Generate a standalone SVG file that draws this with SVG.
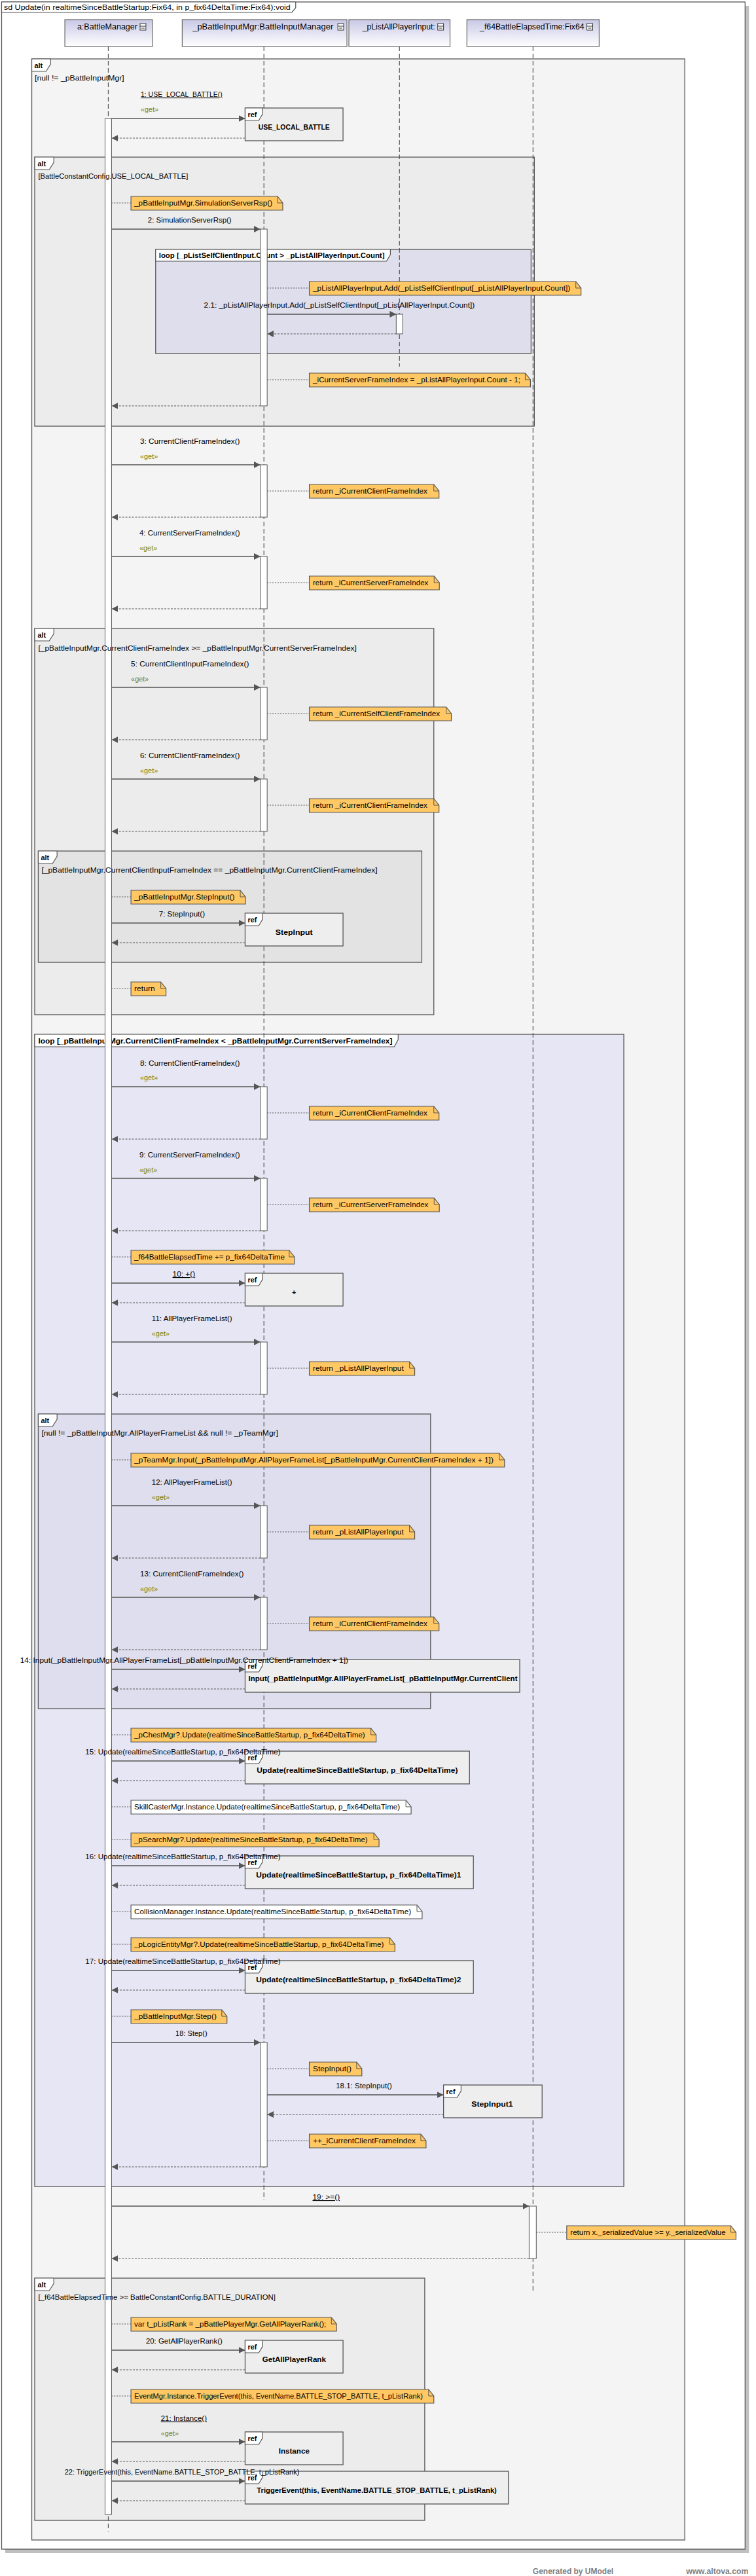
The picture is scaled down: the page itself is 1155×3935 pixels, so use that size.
<svg xmlns="http://www.w3.org/2000/svg" width="1155" height="3935" viewBox="0 0 1155 3935">
<defs>
<style>
.t{font-family:"Liberation Sans",Arial,sans-serif;font-size:11px;fill:#000}
.b{font-weight:bold}
.hd{font-size:13px}
.get{fill:#808000}
.u{text-decoration:underline}
.ft{font-family:"Liberation Sans",Arial,sans-serif;font-size:12px;font-weight:bold;fill:#7f7f7f}
.fr{stroke:#555;stroke-width:1.3}
.tab{fill:#fff;stroke:#555;stroke-width:1.2}
.ll{stroke:#555;stroke-width:1.2;stroke-dasharray:7 4;fill:none}
.act{fill:#fff;stroke:#555;stroke-width:1}
.msg{stroke:#555;stroke-width:1.5;fill:none;marker-end:url(#ah)}
.ret{stroke:#555;stroke-width:1.2;stroke-dasharray:3 2;fill:none;marker-end:url(#ah)}
.nc{stroke:#555;stroke-width:1;stroke-dasharray:2 2;fill:none}
.note{fill:#ffc864;stroke:#555;stroke-width:1.2}
.wnote{fill:#fff;stroke:#555;stroke-width:1.2}
.fold{fill:none;stroke:#555;stroke-width:1}
.ref{fill:#eee;stroke:#555;stroke-width:1.3}
.head{fill:url(#hg);stroke:#666;stroke-width:1.2}
.ico{fill:#fff;stroke:#333;stroke-width:1}
</style>
<linearGradient id="hg" x1="0" y1="0" x2="0" y2="1">
<stop offset="0" stop-color="#c8c8e6"/>
<stop offset="1" stop-color="#ffffff"/>
</linearGradient>
<marker id="ah" markerUnits="userSpaceOnUse" markerWidth="10" markerHeight="10" refX="10" refY="5" orient="auto">
<path d="M0,0 L10,5 L0,10 z" fill="#555"/>
</marker>
</defs>

<rect x="0" y="0" width="1155" height="3935" fill="#fff"/>
<g transform="scale(0.9907 1)">
<rect x="8" y="9" width="1147" height="3891" fill="#c0c0c0"/>
<rect x="2.5" y="3" width="1146.5" height="3891" fill="#fff" stroke="#555" stroke-width="1.3"/>
<path d="M2.5,3 H456 V12 L450,19 H2.5 Z" class="tab"/>
<text class="t" x="6" y="15" font-size="12" textLength="442" lengthAdjust="spacingAndGlyphs">sd Update(in realtimeSinceBattleStartup:Fix64, in p_fix64DeltaTime:Fix64):void</text>

<g id="frames">
<g id="alt-outer">
<rect x="49" y="90" width="1007" height="3790" fill="#f4f4f4" class="fr"/>
<path d="M49,90 H78 V98 L71,109 H49 Z" class="tab"/>
<text class="t b" x="53" y="104" font-size="12">alt</text>
</g>
<g id="alt-local">
<rect x="53.5" y="240" width="770.5" height="411" fill="#ececec" class="fr"/>
<path d="M53.5,240 H83 V248 L76,259 H53.5 Z" class="tab"/>
<text class="t b" x="58" y="254" font-size="12">alt</text>
</g>
<g id="loop-self">
<rect x="240" y="381" width="579" height="159" fill="#dedeed" class="fr"/>
<path d="M240,381 H602 V389 L596,399 H240 Z" class="tab"/>
<text class="t b" x="245" y="394" textLength="348" lengthAdjust="spacingAndGlyphs">loop [_pListSelfClientInput.Count &gt; _pListAllPlayerInput.Count]</text>
</g>
<g id="alt-client">
<rect x="53.5" y="960" width="615.5" height="590" fill="#ececec" class="fr"/>
<path d="M53.5,960 H83 V968 L76,979 H53.5 Z" class="tab"/>
<text class="t b" x="58" y="974" font-size="12">alt</text>
</g>
<g id="alt-step">
<rect x="59" y="1300" width="591.5" height="170" fill="#e3e3e3" class="fr"/>
<path d="M59,1300 H88 V1308 L81,1319 H59 Z" class="tab"/>
<text class="t b" x="63" y="1314" font-size="12">alt</text>
</g>
<g id="loop-frames">
<rect x="53.5" y="1580" width="908.5" height="1760" fill="#e6e6f4" class="fr"/>
<path d="M53.5,1580 H614 V1588 L608,1599 H53.5 Z" class="tab"/>
<text class="t b" x="59" y="1594" textLength="546" lengthAdjust="spacingAndGlyphs">loop [_pBattleInputMgr.CurrentClientFrameIndex &lt; _pBattleInputMgr.CurrentServerFrameIndex]</text>
</g>
<g id="alt-team">
<rect x="59" y="2160" width="605" height="450" fill="#dedeee" class="fr"/>
<path d="M59,2160 H88 V2168 L81,2179 H59 Z" class="tab"/>
<text class="t b" x="63" y="2174" font-size="12">alt</text>
</g>
<g id="alt-end">
<rect x="53.5" y="3480" width="601.5" height="370" fill="#ececec" class="fr"/>
<path d="M53.5,3480 H83 V3488 L76,3499 H53.5 Z" class="tab"/>
<text class="t b" x="58" y="3494" font-size="12">alt</text>
</g>
</g>

<g id="lifeline-battleManager">
<rect x="100" y="30" width="135" height="41" class="head"/>
<text class="t hd" x="119" y="45" textLength="93" lengthAdjust="spacingAndGlyphs">a:BattleManager</text>
<rect x="216" y="36" width="9" height="10" class="ico"/><line x1="216" y1="40" x2="225" y2="40" stroke="#333"/><line x1="218" y1="43" x2="223" y2="43" stroke="#333"/>
<line x1="167" y1="71" x2="167" y2="3867" class="ll"/>
</g>
<g id="lifeline-battleInputMgr">
<rect x="281" y="30" width="254" height="41" class="head"/>
<text class="t hd" x="297" y="45" textLength="217" lengthAdjust="spacingAndGlyphs">_pBattleInputMgr:BattleInputManager</text>
<rect x="521" y="36" width="9" height="10" class="ico"/><line x1="521" y1="40" x2="530" y2="40" stroke="#333"/><line x1="523" y1="43" x2="528" y2="43" stroke="#333"/>
<line x1="407" y1="71" x2="407" y2="3361" class="ll"/>
</g>
<g id="lifeline-listAllPlayerInput">
<rect x="538" y="30" width="156" height="41" class="head"/>
<text class="t hd" x="559" y="45" textLength="112" lengthAdjust="spacingAndGlyphs">_pListAllPlayerInput:</text>
<rect x="675" y="36" width="9" height="10" class="ico"/><line x1="675" y1="40" x2="684" y2="40" stroke="#333"/><line x1="677" y1="43" x2="682" y2="43" stroke="#333"/>
<line x1="616" y1="71" x2="616" y2="560" class="ll"/>
</g>
<g id="lifeline-elapsedTime">
<rect x="720" y="30" width="204" height="41" class="head"/>
<text class="t hd" x="740" y="45" textLength="161" lengthAdjust="spacingAndGlyphs">_f64BattleElapsedTime:Fix64</text>
<rect x="905" y="36" width="9" height="10" class="ico"/><line x1="905" y1="40" x2="914" y2="40" stroke="#333"/><line x1="907" y1="43" x2="912" y2="43" stroke="#333"/>
<line x1="822" y1="71" x2="822" y2="3499" class="ll"/>
</g>

<g id="activations">
<rect x="162" y="181" width="10" height="3660" class="act"/>
<rect x="401.5" y="350" width="10.5" height="270" class="act"/>
<rect x="611" y="480" width="10" height="30" class="act"/>
<rect x="401.5" y="710" width="10.5" height="80" class="act"/>
<rect x="401.5" y="850" width="10.5" height="80" class="act"/>
<rect x="401.5" y="1050" width="10.5" height="80" class="act"/>
<rect x="401.5" y="1190" width="10.5" height="80" class="act"/>
<rect x="401.5" y="1660" width="10.5" height="80" class="act"/>
<rect x="401.5" y="1800" width="10.5" height="80" class="act"/>
<rect x="401.5" y="2050" width="10.5" height="80" class="act"/>
<rect x="401.5" y="2300" width="10.5" height="80" class="act"/>
<rect x="401.5" y="2440" width="10.5" height="80" class="act"/>
<rect x="401.5" y="3120" width="10.5" height="190" class="act"/>
<rect x="816" y="3370" width="11" height="80" class="act"/>
</g>

<g id="ref-use-local-battle">
<rect x="378" y="165" width="151" height="50" class="ref"/>
<path d="M378,165 H405 V174 L399,184 H378 Z" class="tab"/>
<text class="t b" x="382" y="179" font-size="12">ref</text>
<text class="t b" x="453.5" y="198" text-anchor="middle" textLength="110" lengthAdjust="spacingAndGlyphs">USE_LOCAL_BATTLE</text>
</g>
<g id="ref-stepinput">
<rect x="378" y="1395" width="151" height="50" class="ref"/>
<path d="M378,1395 H405 V1404 L399,1414 H378 Z" class="tab"/>
<text class="t b" x="382" y="1409" font-size="12">ref</text>
<text class="t b" x="453.5" y="1428" text-anchor="middle" textLength="57.5" lengthAdjust="spacingAndGlyphs">StepInput</text>
</g>
<g id="ref-plus">
<rect x="378" y="1945" width="151" height="50" class="ref"/>
<path d="M378,1945 H405 V1954 L399,1964 H378 Z" class="tab"/>
<text class="t b" x="382" y="1959" font-size="12">ref</text>
<text class="t b" x="453.5" y="1978" text-anchor="middle">+</text>
</g>
<g id="ref-input">
<rect x="378" y="2535" width="423.5" height="50" class="ref"/>
<path d="M378,2535 H405 V2544 L399,2554 H378 Z" class="tab"/>
<text class="t b" x="382" y="2549" font-size="12">ref</text>
<text class="t b" x="383" y="2568" textLength="415" lengthAdjust="spacingAndGlyphs">Input(_pBattleInputMgr.AllPlayerFrameList[_pBattleInputMgr.CurrentClient</text>
</g>
<g id="ref-update">
<rect x="378" y="2675" width="346" height="50" class="ref"/>
<path d="M378,2675 H405 V2684 L399,2694 H378 Z" class="tab"/>
<text class="t b" x="382" y="2689" font-size="12">ref</text>
<text class="t b" x="551" y="2708" text-anchor="middle" textLength="310" lengthAdjust="spacingAndGlyphs">Update(realtimeSinceBattleStartup, p_fix64DeltaTime)</text>
</g>
<g id="ref-update1">
<rect x="378" y="2835" width="352" height="50" class="ref"/>
<path d="M378,2835 H405 V2844 L399,2854 H378 Z" class="tab"/>
<text class="t b" x="382" y="2849" font-size="12">ref</text>
<text class="t b" x="553" y="2868" text-anchor="middle" textLength="316" lengthAdjust="spacingAndGlyphs">Update(realtimeSinceBattleStartup, p_fix64DeltaTime)1</text>
</g>
<g id="ref-update2">
<rect x="378" y="2995" width="352" height="50" class="ref"/>
<path d="M378,2995 H405 V3004 L399,3014 H378 Z" class="tab"/>
<text class="t b" x="382" y="3009" font-size="12">ref</text>
<text class="t b" x="553" y="3028" text-anchor="middle" textLength="316" lengthAdjust="spacingAndGlyphs">Update(realtimeSinceBattleStartup, p_fix64DeltaTime)2</text>
</g>
<g id="ref-stepinput1">
<rect x="684" y="3185" width="152" height="50" class="ref"/>
<path d="M684,3185 H711 V3194 L705,3204 H684 Z" class="tab"/>
<text class="t b" x="688" y="3199" font-size="12">ref</text>
<text class="t b" x="759" y="3218" text-anchor="middle" textLength="64" lengthAdjust="spacingAndGlyphs">StepInput1</text>
</g>
<g id="ref-getallplayerrank">
<rect x="378" y="3575" width="151" height="50" class="ref"/>
<path d="M378,3575 H405 V3584 L399,3594 H378 Z" class="tab"/>
<text class="t b" x="382" y="3589" font-size="12">ref</text>
<text class="t b" x="453.5" y="3608" text-anchor="middle" textLength="98" lengthAdjust="spacingAndGlyphs">GetAllPlayerRank</text>
</g>
<g id="ref-instance">
<rect x="378" y="3715" width="151" height="50" class="ref"/>
<path d="M378,3715 H405 V3724 L399,3734 H378 Z" class="tab"/>
<text class="t b" x="382" y="3729" font-size="12">ref</text>
<text class="t b" x="453.5" y="3748" text-anchor="middle" textLength="47.6" lengthAdjust="spacingAndGlyphs">Instance</text>
</g>
<g id="ref-triggerevent">
<rect x="378" y="3775" width="406" height="50" class="ref"/>
<path d="M378,3775 H405 V3784 L399,3794 H378 Z" class="tab"/>
<text class="t b" x="382" y="3789" font-size="12">ref</text>
<text class="t b" x="581" y="3808" text-anchor="middle" textLength="370" lengthAdjust="spacingAndGlyphs">TriggerEvent(this, EventName.BATTLE_STOP_BATTLE, t_pListRank)</text>
</g>

<g id="connectors">
<line x1="172" y1="181" x2="378" y2="181" class="msg"/>
<line x1="378" y1="211" x2="172" y2="211" class="ret"/>
<line x1="172" y1="350" x2="401.5" y2="350" class="msg"/>
<line x1="412" y1="480" x2="611" y2="480" class="msg"/>
<line x1="611" y1="510" x2="412" y2="510" class="ret"/>
<line x1="401.5" y1="620" x2="172" y2="620" class="ret"/>
<line x1="172" y1="710" x2="401.5" y2="710" class="msg"/>
<line x1="401.5" y1="790" x2="172" y2="790" class="ret"/>
<line x1="172" y1="850" x2="401.5" y2="850" class="msg"/>
<line x1="401.5" y1="930" x2="172" y2="930" class="ret"/>
<line x1="172" y1="1050" x2="401.5" y2="1050" class="msg"/>
<line x1="401.5" y1="1130" x2="172" y2="1130" class="ret"/>
<line x1="172" y1="1190" x2="401.5" y2="1190" class="msg"/>
<line x1="401.5" y1="1270" x2="172" y2="1270" class="ret"/>
<line x1="172" y1="1410" x2="378" y2="1410" class="msg"/>
<line x1="378" y1="1440" x2="172" y2="1440" class="ret"/>
<line x1="172" y1="1660" x2="401.5" y2="1660" class="msg"/>
<line x1="401.5" y1="1740" x2="172" y2="1740" class="ret"/>
<line x1="172" y1="1800" x2="401.5" y2="1800" class="msg"/>
<line x1="401.5" y1="1880" x2="172" y2="1880" class="ret"/>
<line x1="172" y1="1960" x2="378" y2="1960" class="msg"/>
<line x1="378" y1="1990" x2="172" y2="1990" class="ret"/>
<line x1="172" y1="2050" x2="401.5" y2="2050" class="msg"/>
<line x1="401.5" y1="2130" x2="172" y2="2130" class="ret"/>
<line x1="172" y1="2300" x2="401.5" y2="2300" class="msg"/>
<line x1="401.5" y1="2380" x2="172" y2="2380" class="ret"/>
<line x1="172" y1="2440" x2="401.5" y2="2440" class="msg"/>
<line x1="401.5" y1="2520" x2="172" y2="2520" class="ret"/>
<line x1="172" y1="2550" x2="378" y2="2550" class="msg"/>
<line x1="378" y1="2580" x2="172" y2="2580" class="ret"/>
<line x1="172" y1="2690" x2="378" y2="2690" class="msg"/>
<line x1="378" y1="2720" x2="172" y2="2720" class="ret"/>
<line x1="172" y1="2850" x2="378" y2="2850" class="msg"/>
<line x1="378" y1="2880" x2="172" y2="2880" class="ret"/>
<line x1="172" y1="3010" x2="378" y2="3010" class="msg"/>
<line x1="378" y1="3040" x2="172" y2="3040" class="ret"/>
<line x1="172" y1="3120" x2="401.5" y2="3120" class="msg"/>
<line x1="412" y1="3200" x2="684" y2="3200" class="msg"/>
<line x1="684" y1="3230" x2="412" y2="3230" class="ret"/>
<line x1="401.5" y1="3310" x2="172" y2="3310" class="ret"/>
<line x1="172" y1="3370" x2="816" y2="3370" class="msg"/>
<line x1="816" y1="3450" x2="172" y2="3450" class="ret"/>
<line x1="172" y1="3590" x2="378" y2="3590" class="msg"/>
<line x1="378" y1="3620" x2="172" y2="3620" class="ret"/>
<line x1="172" y1="3730" x2="378" y2="3730" class="msg"/>
<line x1="378" y1="3760" x2="172" y2="3760" class="ret"/>
<line x1="172" y1="3790" x2="378" y2="3790" class="msg"/>
<line x1="378" y1="3820" x2="172" y2="3820" class="ret"/>
<line x1="172" y1="310" x2="202" y2="310" class="nc"/>
<line x1="412" y1="440" x2="477" y2="440" class="nc"/>
<line x1="412" y1="580" x2="477" y2="580" class="nc"/>
<line x1="412" y1="750" x2="477" y2="750" class="nc"/>
<line x1="412" y1="890" x2="477" y2="890" class="nc"/>
<line x1="412" y1="1090" x2="477" y2="1090" class="nc"/>
<line x1="412" y1="1230" x2="477" y2="1230" class="nc"/>
<line x1="172" y1="1370" x2="202" y2="1370" class="nc"/>
<line x1="172" y1="1510" x2="202" y2="1510" class="nc"/>
<line x1="412" y1="1700" x2="477" y2="1700" class="nc"/>
<line x1="412" y1="1840" x2="477" y2="1840" class="nc"/>
<line x1="172" y1="1920" x2="202" y2="1920" class="nc"/>
<line x1="412" y1="2090" x2="477" y2="2090" class="nc"/>
<line x1="172" y1="2230" x2="202" y2="2230" class="nc"/>
<line x1="412" y1="2340" x2="477" y2="2340" class="nc"/>
<line x1="412" y1="2480" x2="477" y2="2480" class="nc"/>
<line x1="172" y1="2650" x2="202" y2="2650" class="nc"/>
<line x1="172" y1="2760" x2="202" y2="2760" class="nc"/>
<line x1="172" y1="2810" x2="202" y2="2810" class="nc"/>
<line x1="172" y1="2920" x2="202" y2="2920" class="nc"/>
<line x1="172" y1="2970" x2="202" y2="2970" class="nc"/>
<line x1="172" y1="3080" x2="202" y2="3080" class="nc"/>
<line x1="412" y1="3160" x2="477" y2="3160" class="nc"/>
<line x1="412" y1="3270" x2="477" y2="3270" class="nc"/>
<line x1="827" y1="3410" x2="874" y2="3410" class="nc"/>
<line x1="172" y1="3550" x2="202" y2="3550" class="nc"/>
<line x1="172" y1="3660" x2="202" y2="3660" class="nc"/>
</g>

<g id="notes">
<g id="note-1"><path d="M202,300 H428 L436,310 V321 H202 Z" class="note"/><path d="M428,300 V310 H436" class="fold"/><text class="t" x="207" y="314" textLength="213" lengthAdjust="spacingAndGlyphs">_pBattleInputMgr.SimulationServerRsp()</text></g>
<g id="note-2"><path d="M477,430 H888 L896,440 V451 H477 Z" class="note"/><path d="M888,430 V440 H896" class="fold"/><text class="t" x="482.5" y="444" textLength="397" lengthAdjust="spacingAndGlyphs">_pListAllPlayerInput.Add(_pListSelfClientInput[_pListAllPlayerInput.Count])</text></g>
<g id="note-3"><path d="M477,570 H810 L818,580 V591 H477 Z" class="note"/><path d="M810,570 V580 H818" class="fold"/><text class="t" x="482.5" y="584" textLength="320" lengthAdjust="spacingAndGlyphs">_iCurrentServerFrameIndex = _pListAllPlayerInput.Count - 1;</text></g>
<g id="note-4"><path d="M477,740 H669 L677,750 V761 H477 Z" class="note"/><path d="M669,740 V750 H677" class="fold"/><text class="t" x="482.5" y="754" textLength="176.5" lengthAdjust="spacingAndGlyphs">return _iCurrentClientFrameIndex</text></g>
<g id="note-5"><path d="M477,880 H669.5 L677.5,890 V901 H477 Z" class="note"/><path d="M669.5,880 V890 H677.5" class="fold"/><text class="t" x="482.5" y="894" textLength="178" lengthAdjust="spacingAndGlyphs">return _iCurrentServerFrameIndex</text></g>
<g id="note-6"><path d="M477,1080 H688 L696,1090 V1101 H477 Z" class="note"/><path d="M688,1080 V1090 H696" class="fold"/><text class="t" x="482.5" y="1094" textLength="196" lengthAdjust="spacingAndGlyphs">return _iCurrentSelfClientFrameIndex</text></g>
<g id="note-7"><path d="M477,1220 H669 L677,1230 V1241 H477 Z" class="note"/><path d="M669,1220 V1230 H677" class="fold"/><text class="t" x="482.5" y="1234" textLength="176.5" lengthAdjust="spacingAndGlyphs">return _iCurrentClientFrameIndex</text></g>
<g id="note-8"><path d="M202,1360 H370.5 L378.5,1370 V1381 H202 Z" class="note"/><path d="M370.5,1360 V1370 H378.5" class="fold"/><text class="t" x="207" y="1374" textLength="155" lengthAdjust="spacingAndGlyphs">_pBattleInputMgr.StepInput()</text></g>
<g id="note-9"><path d="M202,1500 H248 L256,1510 V1521 H202 Z" class="note"/><path d="M248,1500 V1510 H256" class="fold"/><text class="t" x="207" y="1514" textLength="32" lengthAdjust="spacingAndGlyphs">return</text></g>
<g id="note-10"><path d="M477,1690 H669 L677,1700 V1711 H477 Z" class="note"/><path d="M669,1690 V1700 H677" class="fold"/><text class="t" x="482.5" y="1704" textLength="176.5" lengthAdjust="spacingAndGlyphs">return _iCurrentClientFrameIndex</text></g>
<g id="note-11"><path d="M477,1830 H669.5 L677.5,1840 V1851 H477 Z" class="note"/><path d="M669.5,1830 V1840 H677.5" class="fold"/><text class="t" x="482.5" y="1844" textLength="178" lengthAdjust="spacingAndGlyphs">return _iCurrentServerFrameIndex</text></g>
<g id="note-12"><path d="M202,1910 H446 L454,1920 V1931 H202 Z" class="note"/><path d="M446,1910 V1920 H454" class="fold"/><text class="t" x="207" y="1924" textLength="232" lengthAdjust="spacingAndGlyphs">_f64BattleElapsedTime += p_fix64DeltaTime</text></g>
<g id="note-13"><path d="M477,2080 H631.5 L639.5,2090 V2101 H477 Z" class="note"/><path d="M631.5,2080 V2090 H639.5" class="fold"/><text class="t" x="482.5" y="2094" textLength="140" lengthAdjust="spacingAndGlyphs">return _pListAllPlayerInput</text></g>
<g id="note-14"><path d="M202,2220 H770 L778,2230 V2241 H202 Z" class="note"/><path d="M770,2220 V2230 H778" class="fold"/><text class="t" x="207" y="2234" textLength="554" lengthAdjust="spacingAndGlyphs">_pTeamMgr.Input(_pBattleInputMgr.AllPlayerFrameList[_pBattleInputMgr.CurrentClientFrameIndex + 1])</text></g>
<g id="note-15"><path d="M477,2330 H631.5 L639.5,2340 V2351 H477 Z" class="note"/><path d="M631.5,2330 V2340 H639.5" class="fold"/><text class="t" x="482.5" y="2344" textLength="140" lengthAdjust="spacingAndGlyphs">return _pListAllPlayerInput</text></g>
<g id="note-16"><path d="M477,2470 H669 L677,2480 V2491 H477 Z" class="note"/><path d="M669,2470 V2480 H677" class="fold"/><text class="t" x="482.5" y="2484" textLength="176.5" lengthAdjust="spacingAndGlyphs">return _iCurrentClientFrameIndex</text></g>
<g id="note-17"><path d="M202,2640 H572 L580,2650 V2661 H202 Z" class="note"/><path d="M572,2640 V2650 H580" class="fold"/><text class="t" x="207" y="2654" textLength="356" lengthAdjust="spacingAndGlyphs">_pChestMgr?.Update(realtimeSinceBattleStartup, p_fix64DeltaTime)</text></g>
<g id="note-18"><path d="M202,2750 H626 L634,2760 V2771 H202 Z" class="wnote"/><path d="M626,2750 V2760 H634" class="fold"/><text class="t" x="207" y="2764" textLength="410" lengthAdjust="spacingAndGlyphs">SkillCasterMgr.Instance.Update(realtimeSinceBattleStartup, p_fix64DeltaTime)</text></g>
<g id="note-19"><path d="M202,2800 H576.5 L584.5,2810 V2821 H202 Z" class="note"/><path d="M576.5,2800 V2810 H584.5" class="fold"/><text class="t" x="207" y="2814" textLength="360" lengthAdjust="spacingAndGlyphs">_pSearchMgr?.Update(realtimeSinceBattleStartup, p_fix64DeltaTime)</text></g>
<g id="note-20"><path d="M202,2910 H643 L651,2920 V2931 H202 Z" class="wnote"/><path d="M643,2910 V2920 H651" class="fold"/><text class="t" x="207" y="2924" textLength="427" lengthAdjust="spacingAndGlyphs">CollisionManager.Instance.Update(realtimeSinceBattleStartup, p_fix64DeltaTime)</text></g>
<g id="note-21"><path d="M202,2960 H601 L609,2970 V2981 H202 Z" class="note"/><path d="M601,2960 V2970 H609" class="fold"/><text class="t" x="207" y="2974" textLength="385" lengthAdjust="spacingAndGlyphs">_pLogicEntityMgr?.Update(realtimeSinceBattleStartup, p_fix64DeltaTime)</text></g>
<g id="note-22"><path d="M202,3070 H342 L350,3080 V3091 H202 Z" class="note"/><path d="M342,3070 V3080 H350" class="fold"/><text class="t" x="207" y="3084" textLength="127" lengthAdjust="spacingAndGlyphs">_pBattleInputMgr.Step()</text></g>
<g id="note-23"><path d="M477,3150 H550 L558,3160 V3171 H477 Z" class="note"/><path d="M550,3150 V3160 H558" class="fold"/><text class="t" x="482.5" y="3164" textLength="59.5" lengthAdjust="spacingAndGlyphs">StepInput()</text></g>
<g id="note-24"><path d="M477,3260 H649 L657,3270 V3281 H477 Z" class="note"/><path d="M649,3260 V3270 H657" class="fold"/><text class="t" x="482.5" y="3274" textLength="158.5" lengthAdjust="spacingAndGlyphs">++_iCurrentClientFrameIndex</text></g>
<g id="note-25"><path d="M874,3400 H1127 L1135,3410 V3421 H874 Z" class="note"/><path d="M1127,3400 V3410 H1135" class="fold"/><text class="t" x="879.5" y="3414" textLength="239.5" lengthAdjust="spacingAndGlyphs">return x._serializedValue &gt;= y._serializedValue</text></g>
<g id="note-26"><path d="M202,3540 H511 L519,3550 V3561 H202 Z" class="note"/><path d="M511,3540 V3550 H519" class="fold"/><text class="t" x="207" y="3554" textLength="296" lengthAdjust="spacingAndGlyphs">var t_pListRank = _pBattlePlayerMgr.GetAllPlayerRank();</text></g>
<g id="note-27"><path d="M202,3650 H661 L669,3660 V3671 H202 Z" class="note"/><path d="M661,3650 V3660 H669" class="fold"/><text class="t" x="207" y="3664" textLength="445" lengthAdjust="spacingAndGlyphs">EventMgr.Instance.TriggerEvent(this, EventName.BATTLE_STOP_BATTLE, t_pListRank)</text></g>
</g>

<g id="guards">
<text class="t" x="53.5" y="123" textLength="138" lengthAdjust="spacingAndGlyphs">[null != _pBattleInputMgr]</text>
<text class="t" x="59" y="273" textLength="231" lengthAdjust="spacingAndGlyphs">[BattleConstantConfig.USE_LOCAL_BATTLE]</text>
<text class="t" x="59" y="994" textLength="491" lengthAdjust="spacingAndGlyphs">[_pBattleInputMgr.CurrentClientFrameIndex &gt;= _pBattleInputMgr.CurrentServerFrameIndex]</text>
<text class="t" x="64" y="1333" textLength="518" lengthAdjust="spacingAndGlyphs">[_pBattleInputMgr.CurrentClientInputFrameIndex == _pBattleInputMgr.CurrentClientFrameIndex]</text>
<text class="t" x="64" y="2193" textLength="365" lengthAdjust="spacingAndGlyphs">[null != _pBattleInputMgr.AllPlayerFrameList &amp;&amp; null != _pTeamMgr]</text>
<text class="t" x="59" y="3513" textLength="366" lengthAdjust="spacingAndGlyphs">[_f64BattleElapsedTime &gt;= BattleConstantConfig.BATTLE_DURATION]</text>
</g>

<g id="labels">
<text class="t u" x="217" y="148" textLength="126" lengthAdjust="spacingAndGlyphs">1: USE_LOCAL_BATTLE()</text>
<text class="t get" x="217" y="171">«get»</text>
<text class="t" x="228" y="340" textLength="129" lengthAdjust="spacingAndGlyphs">2: SimulationServerRsp()</text>
<text class="t" x="314.5" y="470" textLength="417.5" lengthAdjust="spacingAndGlyphs">2.1: _pListAllPlayerInput.Add(_pListSelfClientInput[_pListAllPlayerInput.Count])</text>
<text class="t" x="216" y="678" textLength="154" lengthAdjust="spacingAndGlyphs">3: CurrentClientFrameIndex()</text>
<text class="t get" x="216" y="701">«get»</text>
<text class="t" x="215" y="818" textLength="155" lengthAdjust="spacingAndGlyphs">4: CurrentServerFrameIndex()</text>
<text class="t get" x="215" y="841">«get»</text>
<text class="t" x="202" y="1018" textLength="182" lengthAdjust="spacingAndGlyphs">5: CurrentClientInputFrameIndex()</text>
<text class="t get" x="202" y="1041">«get»</text>
<text class="t" x="216" y="1158" textLength="154" lengthAdjust="spacingAndGlyphs">6: CurrentClientFrameIndex()</text>
<text class="t get" x="216" y="1181">«get»</text>
<text class="t" x="245" y="1400" textLength="71" lengthAdjust="spacingAndGlyphs">7: StepInput()</text>
<text class="t" x="216" y="1628" textLength="154" lengthAdjust="spacingAndGlyphs">8: CurrentClientFrameIndex()</text>
<text class="t get" x="216" y="1650">«get»</text>
<text class="t" x="215" y="1768" textLength="155" lengthAdjust="spacingAndGlyphs">9: CurrentServerFrameIndex()</text>
<text class="t get" x="215" y="1791">«get»</text>
<text class="t u" x="266" y="1950" textLength="35" lengthAdjust="spacingAndGlyphs">10: +()</text>
<text class="t" x="234" y="2018" textLength="124" lengthAdjust="spacingAndGlyphs">11: AllPlayerFrameList()</text>
<text class="t get" x="234" y="2041">«get»</text>
<text class="t" x="234" y="2268" textLength="124" lengthAdjust="spacingAndGlyphs">12: AllPlayerFrameList()</text>
<text class="t get" x="234" y="2291">«get»</text>
<text class="t" x="216" y="2408" textLength="160" lengthAdjust="spacingAndGlyphs">13: CurrentClientFrameIndex()</text>
<text class="t get" x="216" y="2431">«get»</text>
<text class="t" x="31" y="2540" textLength="506" lengthAdjust="spacingAndGlyphs">14: Input(_pBattleInputMgr.AllPlayerFrameList[_pBattleInputMgr.CurrentClientFrameIndex + 1])</text>
<text class="t" x="131.6" y="2680" textLength="301" lengthAdjust="spacingAndGlyphs">15: Update(realtimeSinceBattleStartup, p_fix64DeltaTime)</text>
<text class="t" x="131.6" y="2840" textLength="301" lengthAdjust="spacingAndGlyphs">16: Update(realtimeSinceBattleStartup, p_fix64DeltaTime)</text>
<text class="t" x="131.6" y="3000" textLength="301" lengthAdjust="spacingAndGlyphs">17: Update(realtimeSinceBattleStartup, p_fix64DeltaTime)</text>
<text class="t" x="270.6" y="3110" textLength="49" lengthAdjust="spacingAndGlyphs">18: Step()</text>
<text class="t" x="518" y="3190" textLength="86.5" lengthAdjust="spacingAndGlyphs">18.1: StepInput()</text>
<text class="t u" x="482" y="3360" textLength="42" lengthAdjust="spacingAndGlyphs">19: &gt;=()</text>
<text class="t" x="225" y="3580" textLength="118" lengthAdjust="spacingAndGlyphs">20: GetAllPlayerRank()</text>
<text class="t u" x="248" y="3698" textLength="71" lengthAdjust="spacingAndGlyphs">21: Instance()</text>
<text class="t get" x="248" y="3721">«get»</text>
<text class="t" x="99.6" y="3780" textLength="362" lengthAdjust="spacingAndGlyphs">22: TriggerEvent(this, EventName.BATTLE_STOP_BATTLE, t_pListRank)</text>
</g>

<g id="footer">
<text class="ft" x="821.5" y="3932" textLength="124.5" lengthAdjust="spacingAndGlyphs">Generated by UModel</text>
<text class="ft" x="1058" y="3932" textLength="96" lengthAdjust="spacingAndGlyphs">www.altova.com</text>
</g>
</g>
</svg>
